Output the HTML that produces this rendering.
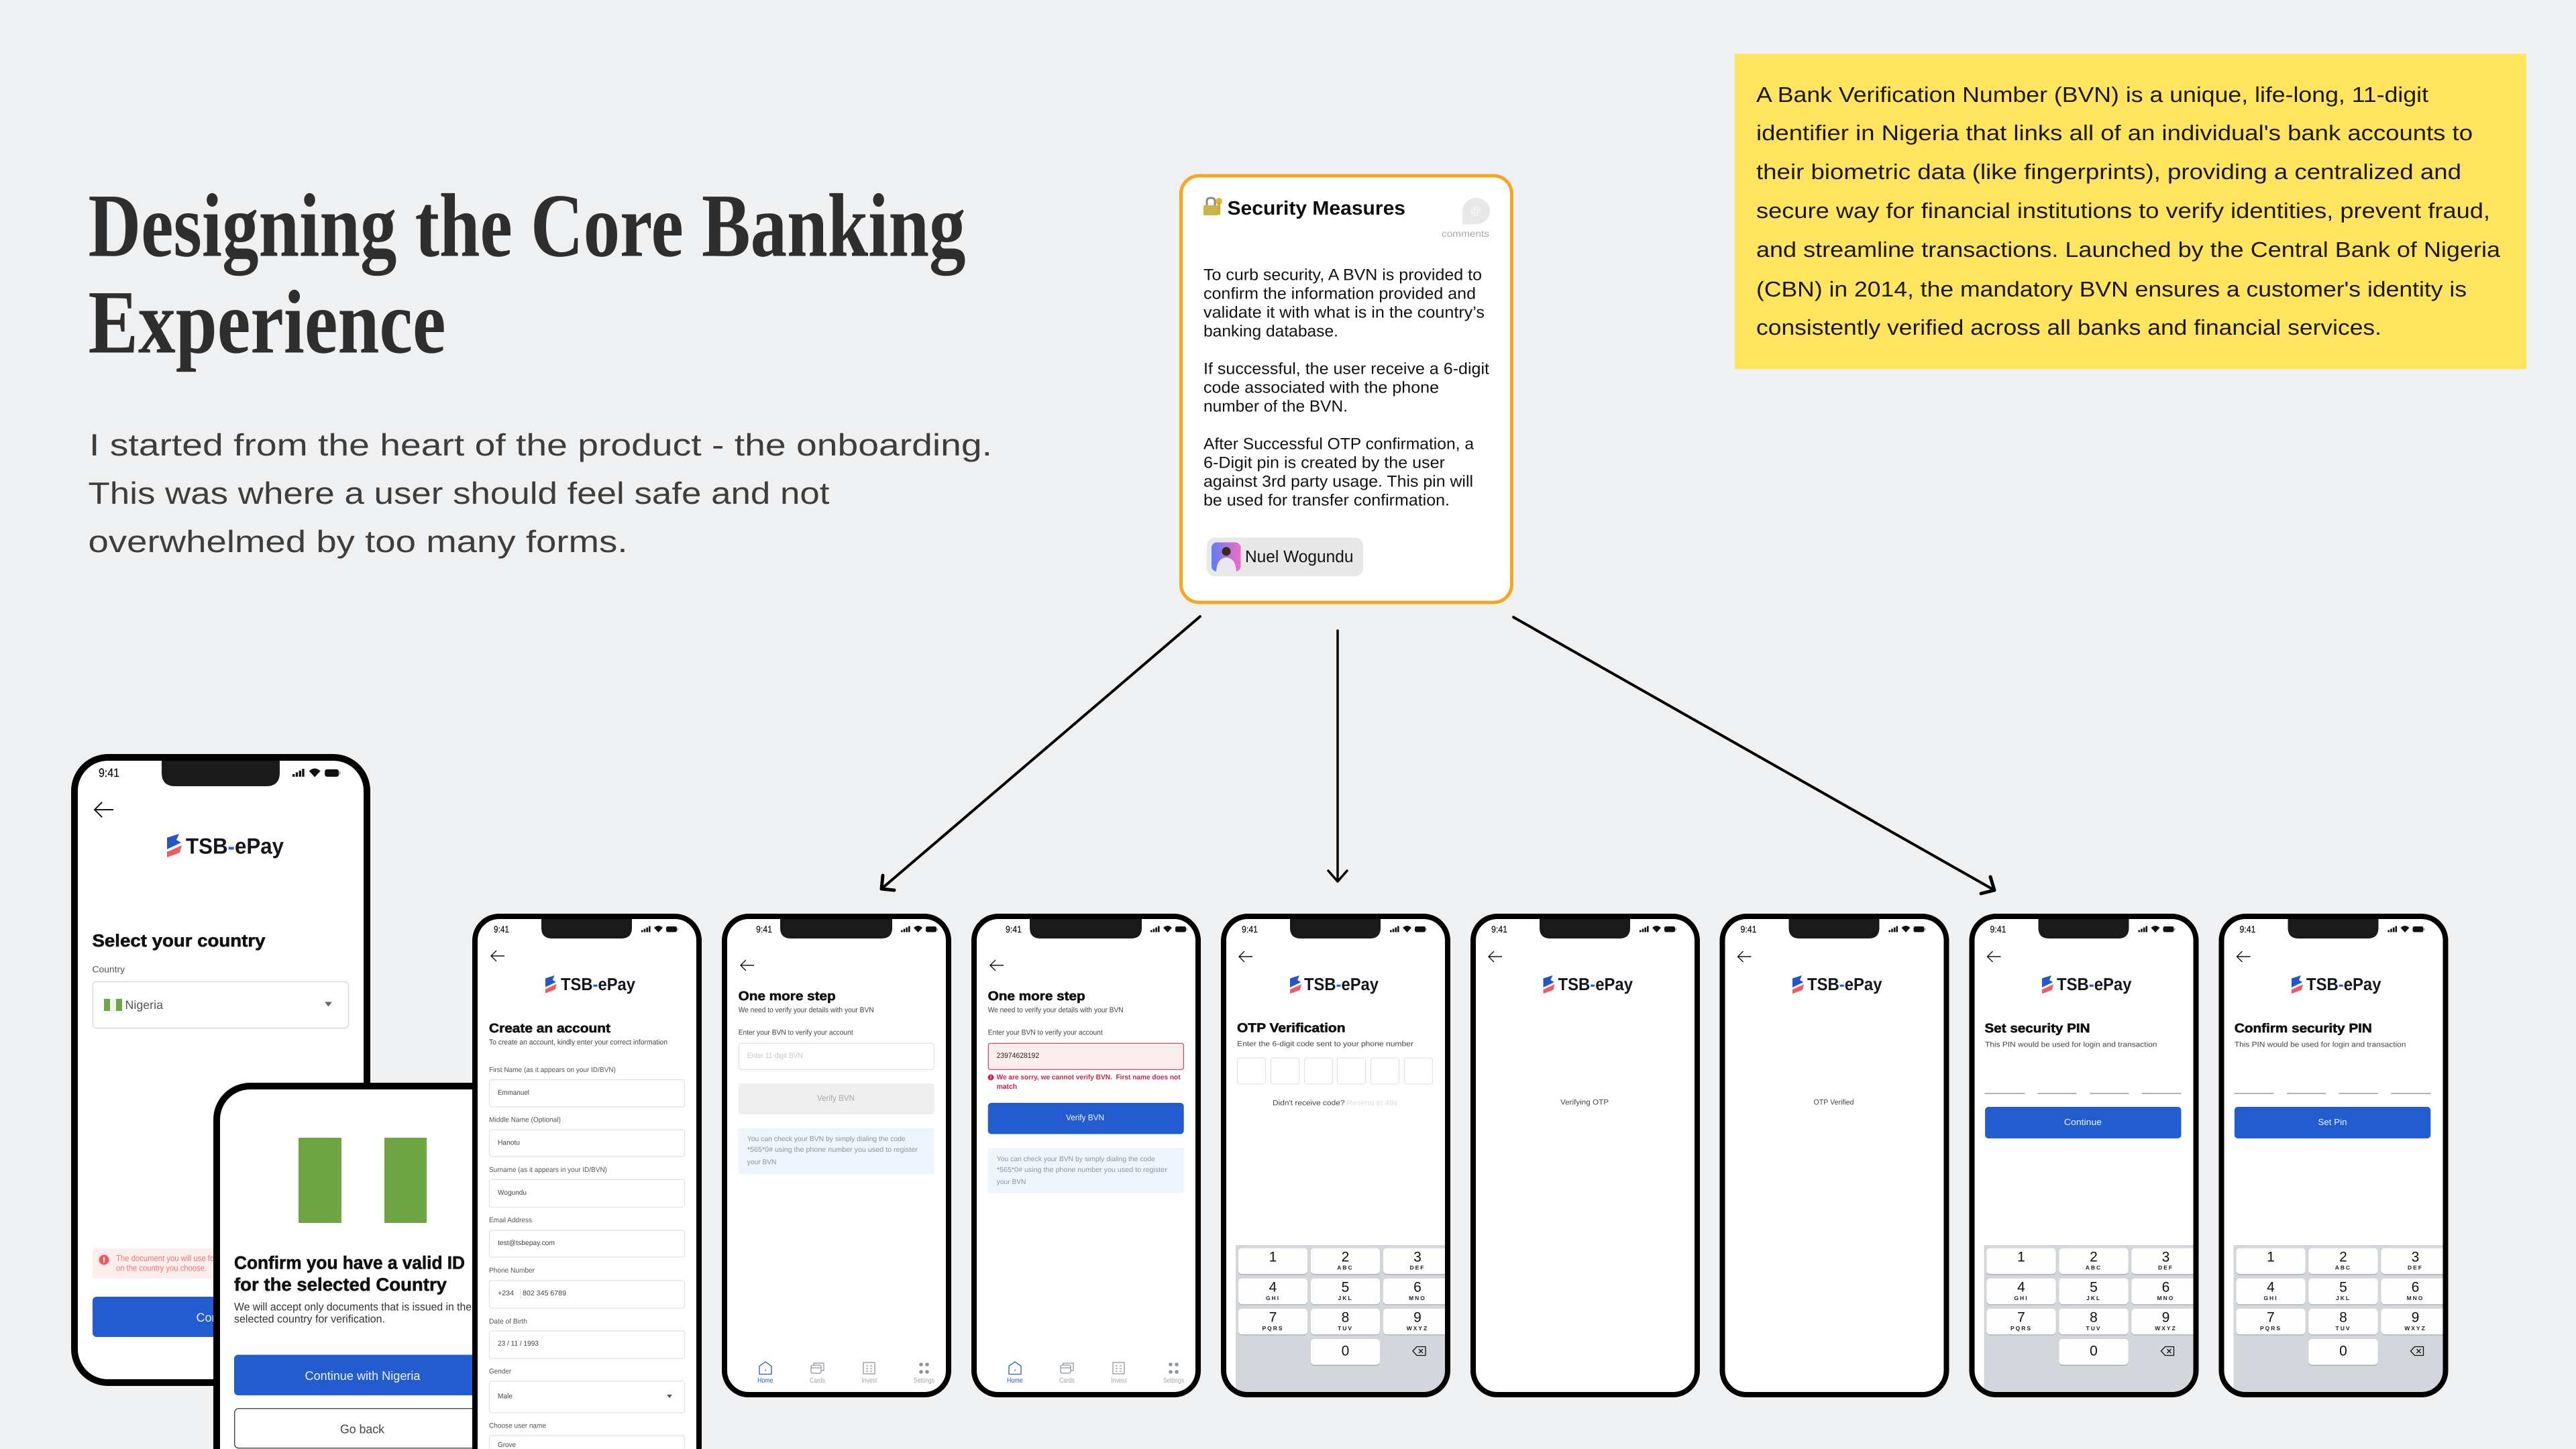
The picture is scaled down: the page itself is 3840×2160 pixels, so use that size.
<!DOCTYPE html>
<html lang="en"><head><meta charset="utf-8"><title>Designing the Core Banking Experience</title>
<style>
html,body{margin:0;padding:0;background:#eff0f2;width:3840px;height:2160px;overflow:hidden}
svg{display:block;font-family:"Liberation Sans",sans-serif;text-rendering:geometricPrecision}
text{white-space:pre}
.c{dominant-baseline:central}
.h{font-weight:bold;fill:#111;stroke:#111;stroke-width:.6;dominant-baseline:central}
.lg{font-weight:bold;font-size:26px;fill:#14161c;dominant-baseline:central}
.s{font-size:11px;fill:#444;dominant-baseline:central}
.l{font-size:10.5px;fill:#555;dominant-baseline:central}
.v{font-size:10.5px;fill:#444;dominant-baseline:central}
.t{font-size:10.5px;fill:#a0a5ad;dominant-baseline:central}
.i{font-size:10.5px;fill:#8b95a0;dominant-baseline:central}
.w{font-size:12px;fill:#e8edf8;dominant-baseline:central}
.tm{font-size:14px;fill:#111;stroke:#111;stroke-width:.25;dominant-baseline:central}
.d{font-size:21px;fill:#111;text-anchor:middle;dominant-baseline:central}
.e{font-size:8.5px;font-weight:bold;letter-spacing:2px;fill:#222;text-anchor:middle;dominant-baseline:central}
.y{font-size:32px;fill:#1a1805}
.p{font-size:46px;fill:#3d3d3d}
.b{font-size:24px;fill:#111;dominant-baseline:central}
</style></head><body>
<svg width="3840" height="2160" viewBox="0 0 3840 2160" xmlns="http://www.w3.org/2000/svg">
<defs>
<linearGradient id="av" x1="0" x2="1" y1="0" y2="0"><stop offset="0" stop-color="#5c7ff6"/><stop offset="1" stop-color="#f26cc4"/></linearGradient>
<clipPath id="cp"><rect x="8" y="8" width="326" height="705" rx="32"/></clipPath>
<rect id="scr" x="4" y="4" width="334" height="713" rx="36" fill="#fff"/>
<rect id="ol" x="4" y="4" width="334" height="713" rx="36" fill="none" stroke="#000" stroke-width="8"/>
<path id="nt" d="M103 8V21Q103 37 119 37H222Q238 37 238 21V8Z" fill="#1a1a1a"/>
<path id="ntb" d="M87 8V21Q87 37 103 37H238Q254 37 254 21V8Z" fill="#1a1a1a"/>
<g id="st">
<rect x="252" y="24.5" width="2.6" height="3" fill="#111"/><rect x="255.7" y="22.5" width="2.6" height="5" fill="#111"/><rect x="259.4" y="20.5" width="2.6" height="7" fill="#111"/><rect x="263" y="18.5" width="2.6" height="9" fill="#111"/>
<path d="M271 21Q277.500 15 284 21L277.500 28Z" fill="#111"/>
<rect x="289" y="19" width="16" height="8.500" rx="2.500" fill="#111"/><rect x="305.500" y="21.500" width="1.500" height="3.500" fill="#999"/>
</g>
<g id="logo"><path d="M0 5.700L18 0L14 9L21 13L0 23Z" fill="#2456c8"/><path d="M0 27L22 17L19 28L0 35Z" fill="#ef5a63"/></g>
<path id="ba" d="M20 0H0M8-8L0 0L8 8" fill="none" stroke="#111" stroke-width="1.400"/>
<g id="kb">
<rect x="22" y="494" width="320" height="230" fill="#d3d6db"/>
<g fill="#a9adb4">
<rect x="26" y="500" width="103" height="38.500" rx="5"/><rect x="134" y="500" width="103" height="38.500" rx="5"/><rect x="242" y="500" width="103" height="38.500" rx="5"/>
<rect x="26" y="545" width="103" height="38.500" rx="5"/><rect x="134" y="545" width="103" height="38.500" rx="5"/><rect x="242" y="545" width="103" height="38.500" rx="5"/>
<rect x="26" y="590" width="103" height="38.500" rx="5"/><rect x="134" y="590" width="103" height="38.500" rx="5"/><rect x="242" y="590" width="103" height="38.500" rx="5"/>
<rect x="134" y="635.500" width="103" height="38.500" rx="5"/></g>
<g fill="#fdfdfe">
<rect x="26" y="498.600" width="103" height="38.500" rx="5"/><rect x="134" y="498.600" width="103" height="38.500" rx="5"/><rect x="242" y="498.600" width="103" height="38.500" rx="5"/>
<rect x="26" y="543.700" width="103" height="38.500" rx="5"/><rect x="134" y="543.700" width="103" height="38.500" rx="5"/><rect x="242" y="543.700" width="103" height="38.500" rx="5"/>
<rect x="26" y="588.800" width="103" height="38.500" rx="5"/><rect x="134" y="588.800" width="103" height="38.500" rx="5"/><rect x="242" y="588.800" width="103" height="38.500" rx="5"/>
<rect x="134" y="634" width="103" height="38.500" rx="5"/></g>
<path d="M286 652L292 645.500H305V658.500H292ZM295 649L301 655M301 649L295 655" fill="none" stroke="#111" stroke-width="1.300"/>
</g>
<g id="tabs" fill="none" stroke-width="1.300">
<path d="M65 668L74 674.500V686.500H56V674.500Z" stroke="#225ccf"/><rect x="64.500" y="679" width="1" height="3" fill="#225ccf"/>
<g stroke="#8e949c"><rect x="133" y="673" width="15" height="12" rx="2"/><path d="M137 673V670H152V681H148M133 677H148"/><path d="M211 669H228V686H211ZM215 674H218M221 674H224M215 678H218M221 678H224M215 682H218M221 682H224"/></g>
<g fill="#8e949c" stroke="none"><circle cx="297" cy="672" r="2.800"/><circle cx="306" cy="672" r="2.800"/><circle cx="297" cy="683" r="2.800"/><circle cx="306" cy="683" r="2.800"/></g>
</g>
</defs>

<rect width="3840" height="2160" fill="#eff0f2"/>

<!-- heading -->
<text x="131.500" y="381.500" font-family="'Liberation Serif',serif" font-weight="bold" font-size="135" fill="#2e2e2e" textLength="1308" lengthAdjust="spacingAndGlyphs">Designing the Core Banking</text>
<text x="131.500" y="525.500" font-family="'Liberation Serif',serif" font-weight="bold" font-size="135" fill="#2e2e2e" textLength="533" lengthAdjust="spacingAndGlyphs">Experience</text>
<text class="p" x="133" y="679" textLength="1346" lengthAdjust="spacingAndGlyphs">I started from the heart of the product - the onboarding.</text>
<text class="p" x="131.500" y="751" textLength="1105" lengthAdjust="spacingAndGlyphs">This was where a user should feel safe and not</text>
<text class="p" x="131.500" y="823" textLength="804" lengthAdjust="spacingAndGlyphs">overwhelmed by too many forms.</text>

<!-- yellow -->
<rect x="2586" y="80" width="1180" height="470" fill="#ffe55f"/>
<text class="y" x="2618" y="152" textLength="1002" lengthAdjust="spacingAndGlyphs">A Bank Verification Number (BVN) is a unique, life-long, 11-digit</text>
<text class="y" x="2618" y="209" textLength="1068" lengthAdjust="spacingAndGlyphs">identifier in Nigeria that links all of an individual's bank accounts to</text>
<text class="y" x="2618" y="267" textLength="1051" lengthAdjust="spacingAndGlyphs">their biometric data (like fingerprints), providing a centralized and</text>
<text class="y" x="2618" y="325" textLength="1094" lengthAdjust="spacingAndGlyphs">secure way for financial institutions to verify identities, prevent fraud,</text>
<text class="y" x="2618" y="383" textLength="1109" lengthAdjust="spacingAndGlyphs">and streamline transactions. Launched by the Central Bank of Nigeria</text>
<text class="y" x="2618" y="442" textLength="1059" lengthAdjust="spacingAndGlyphs">(CBN) in 2014, the mandatory BVN ensures a customer's identity is</text>
<text class="y" x="2618" y="499" textLength="932" lengthAdjust="spacingAndGlyphs">consistently verified across all banks and financial services.</text>

<!-- security card -->
<rect x="1760.500" y="262" width="493" height="636" rx="27" fill="#fff" stroke="#f6a51f" stroke-width="5"/>
<path d="M1799 307V300Q1799 295 1805 295Q1811 295 1811 300V307" fill="none" stroke="#8c8c80" stroke-width="3"/>
<rect x="1794" y="306" width="21" height="15" rx="1.500" fill="#c9b44a"/>
<circle cx="1817" cy="300" r="5" fill="#e2b52c"/><rect x="1815" y="302" width="4" height="18" fill="#d9a92a"/>
<text class="c" x="1829.500" y="311" font-size="29" font-weight="bold" fill="#0c0c0c" textLength="265.500" lengthAdjust="spacingAndGlyphs">Security Measures</text>
<path d="M2180 334.500V315A20.500 19.750 0 1 1 2200.500 334.500Z" fill="#e8e8e8"/>
<text class="c" x="2200" y="315" font-size="16" fill="#fafafa" text-anchor="middle">@</text>
<text class="c" x="2149" y="348" font-size="14" fill="#aaa" textLength="71" lengthAdjust="spacingAndGlyphs">comments</text>
<text class="b" x="1794" y="410" textLength="415" lengthAdjust="spacingAndGlyphs">To curb security, A BVN is provided to</text>
<text class="b" x="1794" y="438" textLength="406" lengthAdjust="spacingAndGlyphs">confirm the information provided and</text>
<text class="b" x="1794" y="466" textLength="419" lengthAdjust="spacingAndGlyphs">validate it with what is in the country’s</text>
<text class="b" x="1794" y="494" textLength="201" lengthAdjust="spacingAndGlyphs">banking database.</text>
<text class="b" x="1794" y="550" textLength="426" lengthAdjust="spacingAndGlyphs">If successful, the user receive a 6-digit</text>
<text class="b" x="1794" y="578" textLength="351" lengthAdjust="spacingAndGlyphs">code associated with the phone</text>
<text class="b" x="1794" y="606" textLength="215" lengthAdjust="spacingAndGlyphs">number of the BVN.</text>
<text class="b" x="1794" y="662" textLength="403" lengthAdjust="spacingAndGlyphs">After Successful OTP confirmation, a</text>
<text class="b" x="1794" y="690" textLength="360" lengthAdjust="spacingAndGlyphs">6-Digit pin is created by the user</text>
<text class="b" x="1794" y="718" textLength="402" lengthAdjust="spacingAndGlyphs">against 3rd party usage. This pin will</text>
<text class="b" x="1794" y="746" textLength="367" lengthAdjust="spacingAndGlyphs">be used for transfer confirmation.</text>
<rect x="1799" y="801.500" width="233" height="57.500" rx="12" fill="#e8e8e8"/>
<rect x="1806" y="808.500" width="43.500" height="43.500" rx="8" fill="url(#av)"/>
<path d="M1813 852Q1814 832 1828 831Q1842 832 1843 852Z" fill="#e8e8ee"/>
<circle cx="1828" cy="822" r="6.500" fill="#3b2a22"/>
<text class="c" x="1856" y="830" font-size="25" fill="#111" textLength="161.500" lengthAdjust="spacingAndGlyphs">Nuel Wogundu</text>

<!-- arrows -->
<g fill="none" stroke="#000" stroke-linecap="round" stroke-linejoin="round">
<path d="M1789 919L1314 1325" stroke-width="4"/><path d="M1316 1305L1314 1325L1333 1327" stroke-width="5"/>
<path d="M1994 940V1314M1980 1298L1994 1314L2008 1298" stroke-width="3.500"/>
<path d="M2256 920L2973 1327" stroke-width="4"/><path d="M2967 1307L2973 1327L2953 1332" stroke-width="5"/>
</g>

<!-- PHONE 1 -->
<rect x="111" y="1129" width="436" height="932" rx="50" fill="#fff"/>
<path d="M241 1134V1152Q241 1172 261 1172H397Q417 1172 417 1152V1134Z" fill="#1a1a1a"/>
<text class="tm" x="147" y="1152" style="font-size:18px" textLength="31" lengthAdjust="spacingAndGlyphs">9:41</text>
<use href="#st" transform="translate(107.600,1122) scale(1.303)"/>
<use href="#ba" transform="translate(141,1207) scale(1.400)"/>
<use href="#logo" x="249" y="1243"/>
<text class="lg" x="277" y="1261" style="font-size:33px" textLength="146" lengthAdjust="spacingAndGlyphs">TSB<tspan fill="#225ccf">-</tspan>ePay</text>
<text class="h" x="137.500" y="1402" font-size="26" textLength="258" lengthAdjust="spacingAndGlyphs">Select your country</text>
<text class="c" x="137.500" y="1445" font-size="13.500" fill="#555" textLength="48.500" lengthAdjust="spacingAndGlyphs">Country</text>
<rect x="138.500" y="1463.500" width="381" height="69" rx="5" fill="#fff" stroke="#d9dce1" stroke-width="1.500"/>
<rect x="155" y="1489" width="27" height="18" fill="#f1f1ee"/><rect x="155" y="1489" width="9" height="18" fill="#6ea646"/><rect x="173" y="1489" width="9" height="18" fill="#6ea646"/>
<text class="c" x="186.500" y="1498" font-size="18" fill="#555" textLength="56.500" lengthAdjust="spacingAndGlyphs">Nigeria</text>
<path d="M484 1493.500H495L489.500 1500.500Z" fill="#667"/>
<rect x="138" y="1861" width="382" height="45" rx="4" fill="#fdeeee"/>
<circle cx="155" cy="1878" r="7.500" fill="#ef5a5a"/><rect x="154" y="1874" width="2" height="5" fill="#fff"/><rect x="154" y="1880" width="2" height="2" fill="#fff"/>
<text class="c" x="173" y="1875.500" font-size="13" fill="#ef7777" textLength="150" lengthAdjust="spacingAndGlyphs">The document you will use for</text>
<text class="c" x="173" y="1890" font-size="13" fill="#ef7777" textLength="135" lengthAdjust="spacingAndGlyphs">on the country you choose.</text>
<rect x="138" y="1933" width="382" height="60" rx="6" fill="#225ccf"/>
<text class="c" x="292.500" y="1964" font-size="18" fill="#f0f4fc" textLength="72" lengthAdjust="spacingAndGlyphs">Continue</text>
<rect x="111" y="1129" width="436" height="932" rx="50" fill="none" stroke="#000" stroke-width="10"/>

<!-- PHONE 2 -->
<path d="M323 2160V1669A50 50 0 0 1 373 1619H900V2160Z" fill="#fff"/>
<path d="M323 2160V1669A50 50 0 0 1 373 1619H900" fill="none" stroke="#000" stroke-width="10"/>
<rect x="445" y="1696" width="64" height="127" fill="#6ea646"/><rect x="573" y="1696" width="63" height="127" fill="#6ea646"/>
<text class="h" x="349" y="1882.500" font-size="27" textLength="344" lengthAdjust="spacingAndGlyphs">Confirm you have a valid ID</text>
<text class="h" x="349" y="1915" font-size="27" textLength="317" lengthAdjust="spacingAndGlyphs">for the selected Country</text>
<text class="c" x="349" y="1948.500" font-size="16.500" fill="#333" textLength="354" lengthAdjust="spacingAndGlyphs">We will accept only documents that is issued in the</text>
<text class="c" x="349" y="1966.500" font-size="16.500" fill="#333" textLength="225" lengthAdjust="spacingAndGlyphs">selected country for verification.</text>
<rect x="349" y="2019.500" width="400" height="60.500" rx="6" fill="#225ccf"/>
<text class="c" x="454.500" y="2050.500" font-size="18.500" fill="#f0f4fc" textLength="172" lengthAdjust="spacingAndGlyphs">Continue with Nigeria</text>
<rect x="349.700" y="2099.700" width="400" height="59" rx="6" fill="#fff" stroke="#444" stroke-width="1.400"/>
<text class="c" x="507" y="2130" font-size="18.500" fill="#444" textLength="66" lengthAdjust="spacingAndGlyphs">Go back</text>

<!-- PHONE 3 -->
<path d="M708 2160V1402A36 36 0 0 1 744 1366H1006A36 36 0 0 1 1042 1402V2160Z" fill="#fff"/>
<g transform="translate(704,1362)"><use href="#nt"/><use href="#st"/><use href="#ba" x="28" y="63"/><use href="#logo" transform="translate(109,92) scale(.76)"/></g>
<text class="tm" x="736" y="1385" textLength="23" lengthAdjust="spacingAndGlyphs">9:41</text>
<text class="lg" x="836" y="1467" textLength="111" lengthAdjust="spacingAndGlyphs">TSB<tspan fill="#225ccf">-</tspan>ePay</text>
<text class="h" x="729" y="1533.500" font-size="19" textLength="181" lengthAdjust="spacingAndGlyphs">Create an account</text>
<text class="s" x="729" y="1554" textLength="266" lengthAdjust="spacingAndGlyphs">To create an account, kindly enter your correct information</text>
<g fill="#fff" stroke="#dfe1e6" stroke-width="1.200">
<rect x="729.500" y="1609.500" width="291" height="40.500" rx="3"/><rect x="729.500" y="1684" width="291" height="40" rx="3"/><rect x="729.500" y="1758.500" width="291" height="41" rx="3"/><rect x="729.500" y="1834" width="291" height="40" rx="3"/><rect x="729.500" y="1909" width="291" height="41" rx="3"/><rect x="729.500" y="1984" width="291" height="41" rx="3"/><rect x="729.500" y="2059" width="291" height="47" rx="3"/><path d="M729.500 2160V2143Q729.500 2140 732.500 2140H1017.500Q1020.500 2140 1020.500 2143V2160"/></g>
<text class="l" x="729" y="1595" textLength="189" lengthAdjust="spacingAndGlyphs">First Name (as it appears on your ID/BVN)</text>
<text class="v" x="742" y="1629" textLength="47" lengthAdjust="spacingAndGlyphs">Emmanuel</text>
<text class="l" x="729" y="1669.500" textLength="107" lengthAdjust="spacingAndGlyphs">Middle Name (Optional)</text>
<text class="v" x="742" y="1703.500" textLength="33" lengthAdjust="spacingAndGlyphs">Hanotu</text>
<text class="l" x="729" y="1744" textLength="176" lengthAdjust="spacingAndGlyphs">Surname (as it appears in your ID/BVN)</text>
<text class="v" x="742" y="1778" textLength="43" lengthAdjust="spacingAndGlyphs">Wogundu</text>
<text class="l" x="729" y="1819" textLength="64" lengthAdjust="spacingAndGlyphs">Email Address</text>
<text class="v" x="742" y="1853" textLength="85" lengthAdjust="spacingAndGlyphs">test@tsbepay.com</text>
<text class="l" x="729" y="1894" textLength="68" lengthAdjust="spacingAndGlyphs">Phone Number</text>
<text class="v" x="742" y="1928" textLength="24" lengthAdjust="spacingAndGlyphs">+234</text><rect x="775" y="1919" width="1" height="18" fill="#e4e4e8"/>
<text class="v" x="779" y="1928" textLength="65" lengthAdjust="spacingAndGlyphs">802 345 6789</text>
<text class="l" x="729" y="1970" textLength="57" lengthAdjust="spacingAndGlyphs">Date of Birth</text>
<text class="v" x="742" y="2003" textLength="61" lengthAdjust="spacingAndGlyphs">23 / 11 / 1993</text>
<text class="l" x="729" y="2044.500" textLength="33" lengthAdjust="spacingAndGlyphs">Gender</text>
<text class="v" x="742" y="2081.500" textLength="22" lengthAdjust="spacingAndGlyphs">Male</text>
<path d="M994 2079H1002L998 2084Z" fill="#556"/>
<text class="l" x="729" y="2125.500" textLength="85" lengthAdjust="spacingAndGlyphs">Choose user name</text>
<text class="v" x="742" y="2154" textLength="27" lengthAdjust="spacingAndGlyphs">Grove</text>
<path d="M708 2160V1402A36 36 0 0 1 744 1366H1006A36 36 0 0 1 1042 1402V2160" fill="none" stroke="#000" stroke-width="8"/>

<!-- PHONE 4 BVN -->
<g transform="translate(1076,1362)">
<use href="#scr"/><use href="#ntb"/><use href="#st" x="15"/><use href="#ba" x="28" y="77"/>
<text class="tm" x="51" y="23" textLength="24" lengthAdjust="spacingAndGlyphs">9:41</text>
<text class="h" x="24.700" y="123.400" font-size="19" textLength="145" lengthAdjust="spacingAndGlyphs">One more step</text>
<text class="s" x="24.700" y="143.800" textLength="202" lengthAdjust="spacingAndGlyphs">We need to verify your details with your BVN</text>
<text class="s" x="24.700" y="177.700" textLength="171" lengthAdjust="spacingAndGlyphs">Enter your BVN to verify your account</text>
<rect x="25.300" y="193.300" width="291" height="39" rx="3" fill="#fff" stroke="#dcdfe5" stroke-width="1.200"/>
<text class="s" x="37.800" y="212" style="fill:#c4c7cc" textLength="83" lengthAdjust="spacingAndGlyphs">Enter 11-digit BVN</text>
<rect x="24.700" y="253" width="292" height="46" rx="5" fill="#efefef"/>
<text class="c" x="142" y="275" font-size="12.500" fill="#a9a9a9" textLength="56" lengthAdjust="spacingAndGlyphs">Verify BVN</text>
<rect x="24.700" y="320" width="292" height="68" rx="2" fill="#eef5fd"/>
<text class="i" x="37.800" y="336" textLength="236" lengthAdjust="spacingAndGlyphs">You can check your BVN by simply dialing the code</text>
<text class="i" x="37.800" y="352" textLength="254" lengthAdjust="spacingAndGlyphs">*565*0# using the phone number you used to register</text>
<text class="i" x="37.800" y="370.600" textLength="43.600" lengthAdjust="spacingAndGlyphs">your BVN</text>
<use href="#tabs"/>
<text class="t" x="53" y="696" style="fill:#225ccf" textLength="23.600" lengthAdjust="spacingAndGlyphs">Home</text>
<text class="t" x="131" y="696" textLength="23" lengthAdjust="spacingAndGlyphs">Cards</text>
<text class="t" x="208.400" y="696" textLength="23" lengthAdjust="spacingAndGlyphs">Invest</text>
<text class="t" x="286" y="696" textLength="31" lengthAdjust="spacingAndGlyphs">Settings</text>
<use href="#ol"/>
</g>

<!-- PHONE 5 BVN error -->
<g transform="translate(1448,1362)">
<use href="#scr"/><use href="#ntb"/><use href="#st" x="15"/><use href="#ba" x="28" y="77"/>
<text class="tm" x="51" y="23" textLength="24" lengthAdjust="spacingAndGlyphs">9:41</text>
<text class="h" x="24.700" y="123.400" font-size="19" textLength="145" lengthAdjust="spacingAndGlyphs">One more step</text>
<text class="s" x="24.700" y="143.800" textLength="202" lengthAdjust="spacingAndGlyphs">We need to verify your details with your BVN</text>
<text class="s" x="24.700" y="177.700" textLength="171" lengthAdjust="spacingAndGlyphs">Enter your BVN to verify your account</text>
<rect x="25.300" y="193.300" width="291" height="39" rx="3" fill="#fdeff0" stroke="#d2395a" stroke-width="1.200"/>
<text class="s" x="37.600" y="212" style="fill:#222" textLength="63.500" lengthAdjust="spacingAndGlyphs">23974628192</text>
<circle cx="29" cy="244" r="4.500" fill="#c9224e"/><rect x="28.500" y="241" width="1" height="3.500" fill="#fff"/><rect x="28.500" y="245.500" width="1" height="1" fill="#fff"/>
<text class="c" x="37.600" y="244" font-size="10.500" font-weight="bold" fill="#c9224e" textLength="274" lengthAdjust="spacingAndGlyphs">We are sorry, we cannot verify BVN.  First name does not</text>
<text class="c" x="37.600" y="258" font-size="10.500" font-weight="bold" fill="#c9224e" textLength="30.500" lengthAdjust="spacingAndGlyphs">match</text>
<rect x="24.700" y="282" width="292" height="46.500" rx="5" fill="#225ccf"/>
<text class="c" x="141" y="304" font-size="12.500" fill="#f0f4fc" textLength="57" lengthAdjust="spacingAndGlyphs">Verify BVN</text>
<rect x="24.700" y="349" width="292" height="68" rx="2" fill="#eef5fd"/>
<text class="i" x="37.800" y="366" textLength="236" lengthAdjust="spacingAndGlyphs">You can check your BVN by simply dialing the code</text>
<text class="i" x="37.800" y="382" textLength="254" lengthAdjust="spacingAndGlyphs">*565*0# using the phone number you used to register</text>
<text class="i" x="37.800" y="400" textLength="43.600" lengthAdjust="spacingAndGlyphs">your BVN</text>
<use href="#tabs"/>
<text class="t" x="53" y="696" style="fill:#225ccf" textLength="23.600" lengthAdjust="spacingAndGlyphs">Home</text>
<text class="t" x="131" y="696" textLength="23" lengthAdjust="spacingAndGlyphs">Cards</text>
<text class="t" x="208.400" y="696" textLength="23" lengthAdjust="spacingAndGlyphs">Invest</text>
<text class="t" x="286" y="696" textLength="31" lengthAdjust="spacingAndGlyphs">Settings</text>
<use href="#ol"/>
</g>

<!-- PHONE 6 OTP -->
<g transform="translate(1820,1362)">
<use href="#scr"/>
<g clip-path="url(#cp)"><use href="#kb"/></g>
<use href="#nt"/><use href="#st"/><use href="#ba" x="27" y="64"/>
<text class="tm" x="31" y="23" textLength="24" lengthAdjust="spacingAndGlyphs">9:41</text>
<use href="#logo" transform="translate(103,92) scale(.78)"/>
<text class="lg" x="124" y="105" textLength="111" lengthAdjust="spacingAndGlyphs">TSB<tspan fill="#225ccf">-</tspan>ePay</text>
<text class="h" x="24" y="171" font-size="19" textLength="161.500" lengthAdjust="spacingAndGlyphs">OTP Verification</text>
<text class="s" x="24" y="194.700" textLength="263" lengthAdjust="spacingAndGlyphs">Enter the 6-digit code sent to your phone number</text>
<g fill="#fff" stroke="#e2e3e6" stroke-width="1.200"><rect x="24.500" y="215" width="42" height="39" rx="3"/><rect x="74.500" y="215" width="42" height="39" rx="3"/><rect x="124.500" y="215" width="42" height="39" rx="3"/><rect x="173.500" y="215" width="42" height="39" rx="3"/><rect x="223.500" y="215" width="42" height="39" rx="3"/><rect x="273.500" y="215" width="42" height="39" rx="3"/></g>
<text class="s" x="77" y="282.400" textLength="107.500" lengthAdjust="spacingAndGlyphs">Didn't receive code?</text>
<text class="s" x="187.500" y="282.400" style="fill:#dcdcdc" textLength="76" lengthAdjust="spacingAndGlyphs">Resend in 49s</text>
<g clip-path="url(#cp)">
<text class="d" x="77.500" y="512">1</text><text class="d" x="185.500" y="512">2</text><text class="d" x="293" y="512">3</text>
<text class="d" x="77.500" y="557">4</text><text class="d" x="185.500" y="557">5</text><text class="d" x="293" y="557">6</text>
<text class="d" x="77.500" y="602">7</text><text class="d" x="185.500" y="602">8</text><text class="d" x="293" y="602">9</text>
<text class="d" x="185.500" y="652">0</text>
<text class="e" x="185.500" y="527.700">ABC</text><text class="e" x="293" y="527.700">DEF</text>
<text class="e" x="77.500" y="573">GHI</text><text class="e" x="185.500" y="573">JKL</text><text class="e" x="293" y="573">MNO</text>
<text class="e" x="77.500" y="618">PQRS</text><text class="e" x="185.500" y="618">TUV</text><text class="e" x="293" y="618">WXYZ</text>
</g>
<use href="#ol"/>
</g>

<!-- PHONE 7 -->
<g transform="translate(2192,1362)">
<use href="#scr"/><use href="#nt"/><use href="#st"/><use href="#ba" x="27" y="64"/>
<text class="tm" x="31" y="23" textLength="24" lengthAdjust="spacingAndGlyphs">9:41</text>
<use href="#logo" transform="translate(108.500,92) scale(.78)"/>
<text class="lg" x="130.500" y="105" textLength="111.500" lengthAdjust="spacingAndGlyphs">TSB<tspan fill="#225ccf">-</tspan>ePay</text>
<text class="s" x="134" y="281.500" textLength="72" lengthAdjust="spacingAndGlyphs">Verifying OTP</text>
<use href="#ol"/>
</g>

<!-- PHONE 7b -->
<g transform="translate(2563.500,1362)">
<use href="#scr"/><use href="#nt"/><use href="#st"/><use href="#ba" x="27" y="64"/>
<text class="tm" x="31" y="23" textLength="24" lengthAdjust="spacingAndGlyphs">9:41</text>
<use href="#logo" transform="translate(108.500,92) scale(.78)"/>
<text class="lg" x="130.500" y="105" textLength="111.500" lengthAdjust="spacingAndGlyphs">TSB<tspan fill="#225ccf">-</tspan>ePay</text>
<text class="s" x="140" y="281.500" textLength="60" lengthAdjust="spacingAndGlyphs">OTP Verified</text>
<use href="#ol"/>
</g>

<!-- PHONE 8 -->
<g transform="translate(2935.500,1362)">
<use href="#scr"/>
<g clip-path="url(#cp)"><use href="#kb"/></g>
<use href="#nt"/><use href="#st"/><use href="#ba" x="27" y="64"/>
<text class="tm" x="31" y="23" textLength="24" lengthAdjust="spacingAndGlyphs">9:41</text>
<use href="#logo" transform="translate(108.500,92) scale(.78)"/>
<text class="lg" x="130.500" y="105" textLength="111.500" lengthAdjust="spacingAndGlyphs">TSB<tspan fill="#225ccf">-</tspan>ePay</text>
<text class="h" x="23" y="171.400" font-size="19" textLength="157" lengthAdjust="spacingAndGlyphs">Set security PIN</text>
<text class="s" x="23.600" y="195.500" textLength="256.400" lengthAdjust="spacingAndGlyphs">This PIN would be used for login and transaction</text>
<path d="M23 268H83M102 268H160M180 268H238M257 268H316" stroke="#888" stroke-width="1.200"/>
<rect x="23.600" y="288" width="292.400" height="47" rx="5" fill="#225ccf"/>
<text class="c" x="141.400" y="310.500" font-size="13" fill="#f0f4fc" textLength="56.200" lengthAdjust="spacingAndGlyphs">Continue</text>
<g clip-path="url(#cp)">
<text class="d" x="77.500" y="512">1</text><text class="d" x="185.500" y="512">2</text><text class="d" x="293" y="512">3</text>
<text class="d" x="77.500" y="557">4</text><text class="d" x="185.500" y="557">5</text><text class="d" x="293" y="557">6</text>
<text class="d" x="77.500" y="602">7</text><text class="d" x="185.500" y="602">8</text><text class="d" x="293" y="602">9</text>
<text class="d" x="185.500" y="652">0</text>
<text class="e" x="185.500" y="527.700">ABC</text><text class="e" x="293" y="527.700">DEF</text>
<text class="e" x="77.500" y="573">GHI</text><text class="e" x="185.500" y="573">JKL</text><text class="e" x="293" y="573">MNO</text>
<text class="e" x="77.500" y="618">PQRS</text><text class="e" x="185.500" y="618">TUV</text><text class="e" x="293" y="618">WXYZ</text>
</g>
<use href="#ol"/>
</g>

<!-- PHONE 9 -->
<g transform="translate(3307.500,1362)">
<use href="#scr"/>
<g clip-path="url(#cp)"><use href="#kb"/></g>
<use href="#nt"/><use href="#st"/><use href="#ba" x="27" y="64"/>
<text class="tm" x="31" y="23" textLength="24" lengthAdjust="spacingAndGlyphs">9:41</text>
<use href="#logo" transform="translate(108.500,92) scale(.78)"/>
<text class="lg" x="130.500" y="105" textLength="111.500" lengthAdjust="spacingAndGlyphs">TSB<tspan fill="#225ccf">-</tspan>ePay</text>
<text class="h" x="23.400" y="171.400" font-size="19" textLength="205" lengthAdjust="spacingAndGlyphs">Confirm security PIN</text>
<text class="s" x="23.400" y="195.500" textLength="255.600" lengthAdjust="spacingAndGlyphs">This PIN would be used for login and transaction</text>
<path d="M23 268H82M101.500 268H159.600M179 268H237.700M256.600 268H316" stroke="#888" stroke-width="1.200"/>
<rect x="23.400" y="288" width="292.400" height="47" rx="5" fill="#225ccf"/>
<text class="c" x="148" y="310.500" font-size="13" fill="#f0f4fc" textLength="43" lengthAdjust="spacingAndGlyphs">Set Pin</text>
<g clip-path="url(#cp)">
<text class="d" x="77.500" y="512">1</text><text class="d" x="185.500" y="512">2</text><text class="d" x="293" y="512">3</text>
<text class="d" x="77.500" y="557">4</text><text class="d" x="185.500" y="557">5</text><text class="d" x="293" y="557">6</text>
<text class="d" x="77.500" y="602">7</text><text class="d" x="185.500" y="602">8</text><text class="d" x="293" y="602">9</text>
<text class="d" x="185.500" y="652">0</text>
<text class="e" x="185.500" y="527.700">ABC</text><text class="e" x="293" y="527.700">DEF</text>
<text class="e" x="77.500" y="573">GHI</text><text class="e" x="185.500" y="573">JKL</text><text class="e" x="293" y="573">MNO</text>
<text class="e" x="77.500" y="618">PQRS</text><text class="e" x="185.500" y="618">TUV</text><text class="e" x="293" y="618">WXYZ</text>
</g>
<use href="#ol"/>
</g>
</svg>
</body></html>
